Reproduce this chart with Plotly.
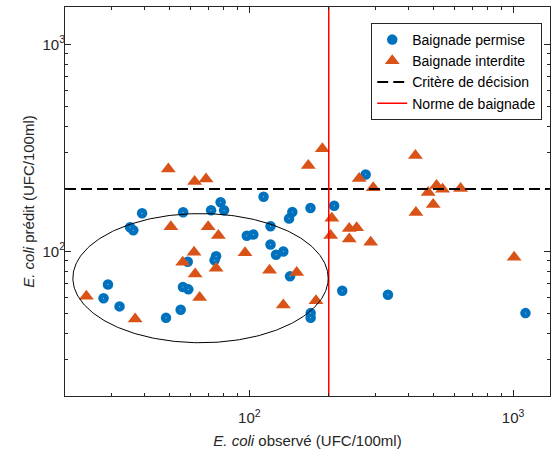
import numpy as np
import plotly.graph_objects as go

# ---- data ----
permise_obs = [39.2, 35.3, 36.3, 56.1, 71.6, 77.8, 80.2, 113.2, 120.3, 97.8, 103.5, 120.3,
               126.2, 134.5, 142.6, 141.4, 145.5, 170.5, 209.7, 276.0, 225.0, 335.3, 1114,
               170.8, 170.8, 74.8, 73.8, 58.4, 29.1, 28.0, 32.2, 48.3, 54.9, 56.0, 58.7]
permise_pred = [152.7, 130.7, 126.4, 154.4, 157.9, 172.6, 157.9, 183.5, 132.1, 118.9, 120.6, 107.9,
                96.2, 99.8, 75.7, 143.9, 154.9, 162.0, 166.0, 235.0, 64.5, 61.7, 50.3,
                50.3, 47.8, 94.6, 90.5, 89.0, 69.1, 59.3, 54.2, 47.7, 52.2, 67.3, 65.5]

interdite_obs = [49.3, 62.0, 68.5, 50.4, 69.8, 76.3, 61.7, 55.9, 74.8, 62.3, 96.3, 119.3,
                 151.2, 24.1, 36.9, 64.8, 134.5, 178.9, 167.3, 189.1, 205.4, 203.4, 239.2,
                 255.2, 239.2, 288.4, 260.8, 294.9, 426.1, 476.4, 512.6, 540.3, 632.2, 497.7,
                 428.0, 1009]
interdite_pred = [250.1, 217.7, 223.8, 131.4, 131.4, 119.1, 98.9, 88.5, 82.8, 77.7, 98.3, 81.1,
                  79.1, 60.6, 47.1, 59.9, 55.0, 57.7, 259.8, 312.6, 144.4, 119.1, 128.8,
                  129.9, 114.7, 110.5, 225.0, 202.9, 290.4, 192.3, 207.9, 199.5, 201.1, 168.4,
                  153.9, 93.5]

critere_decision = 200   # predicted threshold
norme_baignade = 200     # observed bathing standard

x_range = [20, 1380]
y_range = [20, 1515]

# ellipse (log space): centre and half-axes in decades
ell_center = (65.3, 74.2)
ell_half = (0.484, 0.312)

x_tickvals = [100, 1000]
x_ticktext = ["10<sup>2</sup>", "10<sup>3</sup>"]
y_tickvals = [100, 1000]
y_ticktext = ["10<sup>2</sup>", "10<sup>3</sup>"]
minor_vals = [m * 10 ** d for d in (1, 2, 3) for m in range(2, 10)]

BLUE = "#0072BD"
ORANGE = "#D95319"
FONT = "Liberation Sans, Arial, sans-serif"
TXT = "#262626"

fig = go.Figure()
fig.add_trace(go.Scatter(x=permise_obs, y=permise_pred, mode="markers", name="Baignade permise",
                         marker=dict(symbol="circle", size=10.5, color=BLUE, line=dict(width=0))))
fig.add_trace(go.Scatter(x=permise_obs, y=permise_pred, mode="markers", showlegend=False,
                         hoverinfo="skip",
                         marker=dict(symbol="circle", size=1, color="rgba(255,255,255,0.8)",
                                     line=dict(width=0))))
fig.add_trace(go.Scatter(x=interdite_obs, y=interdite_pred, mode="markers", name="Baignade interdite",
                         marker=dict(symbol="triangle-up", size=13, color=ORANGE, line=dict(width=0))))
fig.add_trace(go.Scatter(x=x_range, y=[critere_decision] * 2, mode="lines", name="Critère de décision",
                         line=dict(color="black", width=1.8, dash="11px,5px")))
fig.add_trace(go.Scatter(x=[norme_baignade] * 2, y=y_range, mode="lines", name="Norme de baignade",
                         line=dict(color="#FF0000", width=1.5)))

t = np.linspace(0, 2 * np.pi, 300)
ex = 10 ** (np.log10(ell_center[0]) + ell_half[0] * np.cos(t))
ey = 10 ** (np.log10(ell_center[1]) + ell_half[1] * np.sin(t))
fig.add_trace(go.Scatter(x=ex, y=ey, mode="lines", showlegend=False, hoverinfo="skip",
                         line=dict(color="black", width=1)))

axis_common = dict(type="log", showgrid=False, zeroline=False, showline=True, linecolor=TXT,
                   linewidth=1, mirror="allticks", ticks="inside", ticklen=6, tickcolor=TXT,
                   automargin=False,
                   tickfont=dict(family=FONT, size=15, color=TXT),
                   minor=dict(ticks="inside", ticklen=3, tickcolor=TXT, tickvals=minor_vals,
                              showgrid=False))

fig.update_xaxes(**axis_common, range=[np.log10(x_range[0]), np.log10(x_range[1])],
                 tickvals=x_tickvals, ticktext=x_ticktext, ticklabelstandoff=8,
                 title=dict(text="<i>E. coli</i> observé (UFC/100ml)",
                            font=dict(family=FONT, size=15, color=TXT), standoff=10))
fig.update_yaxes(**axis_common, range=[np.log10(y_range[0]), np.log10(y_range[1])],
                 tickvals=y_tickvals, ticktext=y_ticktext, ticklabelstandoff=-4,
                 title=dict(text="<i>E. coli</i> prédit (UFC/100ml)",
                            font=dict(family=FONT, size=15, color=TXT), standoff=4))

fig.update_layout(
    width=554, height=450,
    margin=dict(l=65, r=4, t=7, b=54, autoexpand=False),
    plot_bgcolor="white", paper_bgcolor="white",
    font=dict(family=FONT, color=TXT),
    legend=dict(x=0.984, y=0.9589, xanchor="right", yanchor="top",
                bgcolor="white", bordercolor="#262626", borderwidth=1,
                font=dict(family=FONT, size=14, color="black"), tracegroupgap=0),
    showlegend=True,
)

fig.write_html("out.html", config={"displayModeBar": False},
               post_script="document.body.style.margin='0';")
